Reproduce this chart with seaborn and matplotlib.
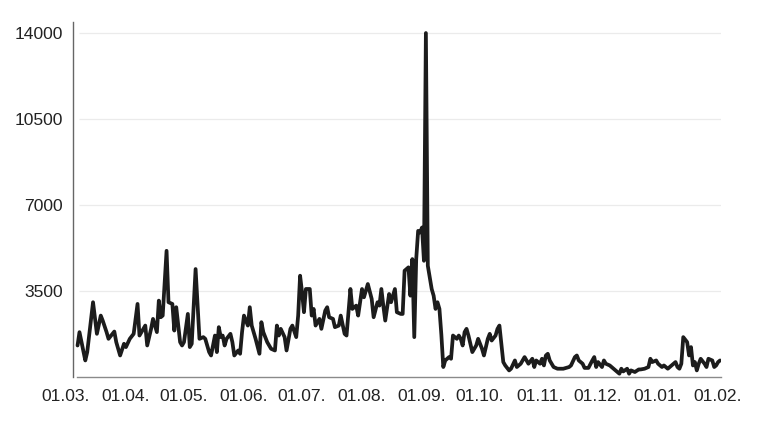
import matplotlib
matplotlib.use("Agg")
import matplotlib.pyplot as plt
import matplotlib.dates as mdates
import seaborn as sns
import pandas as pd

# days counted from the first data point (07.03.)
day_offsets = [
    0, 1, 4, 5, 8, 10, 12, 13, 15, 16, 19, 20, 22, 24, 25, 27, 29, 31, 32, 35,
    36, 38, 39, 41, 42, 43, 44, 46, 47, 49, 50, 51, 53, 54, 55, 57, 58, 59, 61, 63,
    65, 66, 68, 69, 71, 72, 73, 74, 75, 76, 77, 79, 80, 81, 83, 84, 85, 86, 88, 89,
    90, 91, 92, 94, 95, 96, 98, 100, 102, 103, 104, 105, 107, 108, 110, 111, 113, 114, 115, 116,
    117, 118, 120, 121, 122, 123, 125, 126, 128, 129, 130, 132, 133, 135, 136, 138, 139, 141, 142, 144,
    145, 147, 148, 150, 152, 153, 155, 156, 157, 158, 159, 161, 162, 164, 165, 167, 168, 169, 171, 172,
    173, 174, 175, 176, 177, 178, 179, 180, 181, 183, 184, 185, 186, 187, 188, 189, 190, 192, 193, 194,
    196, 197, 198, 199, 200, 201, 202, 204, 206, 207, 209, 210, 212, 213, 214, 216, 217, 218, 220, 221,
    223, 224, 226, 227, 229, 231, 232, 233, 235, 236, 237, 239, 240, 241, 242, 243, 244, 246, 248, 251,
    254, 255, 257, 258, 259, 261, 262, 264, 266, 267, 268, 269, 271, 272, 273, 275, 277, 278, 280, 281,
    282, 284, 285, 286, 288, 290, 291, 293, 295, 296, 297, 299, 300, 302, 303, 305, 306, 307, 309, 310,
    311, 312, 313, 315, 316, 317, 318, 319, 320, 321, 322, 324, 325, 326, 328, 329, 330, 331, 332,
]
values = [
    1264, 1808, 654, 995, 3027, 1739, 2483, 2280, 1808, 1536, 1832, 1402, 857, 1333, 1199, 1536, 1739, 2958, 1670, 2076,
    1264, 1942, 2348, 1808, 3092, 2416, 2483, 5123, 3027, 2958, 1873, 2824, 1402, 1264, 1402, 2551, 1199, 1333, 4380, 1536,
    1605, 1536, 995, 857, 1670, 995, 2011, 1605, 1670, 1264, 1536, 1739, 1402, 857, 1060, 926, 1808, 2483, 2076, 2824,
    2076, 1808, 1536, 926, 2214, 1808, 1402, 1130, 1060, 2076, 1670, 1942, 1605, 1060, 1942, 2076, 1605, 2483, 4108, 3433,
    2621, 3567, 3567, 2483, 2755, 2076, 2348, 1942, 2686, 2824, 2416, 2348, 2011, 2076, 2483, 1739, 1670, 3567, 2755, 2890,
    2483, 3567, 3229, 3770, 3161, 2416, 3027, 2890, 3567, 2890, 2280, 3364, 3027, 3567, 2621, 2551, 2551, 4311, 4449, 3295,
    4786, 1605, 4786, 5936, 5871, 6074, 4717, 14000, 4515, 3567, 3295, 2755, 3027, 2755, 1700, 386, 654, 792, 723, 1670,
    1536, 1670, 1536, 1264, 1808, 1942, 1670, 995, 1264, 1536, 1130, 857, 1536, 1739, 1467, 1670, 1942, 2076, 589, 451,
    248, 317, 654, 386, 520, 792, 654, 520, 723, 386, 654, 520, 723, 451, 857, 926, 654, 386, 317, 317,
    386, 451, 792, 857, 654, 520, 350, 350, 654, 792, 386, 589, 386, 654, 520, 451, 317, 248, 114, 317,
    207, 317, 114, 248, 183, 288, 288, 317, 386, 723, 589, 654, 520, 386, 451, 317, 386, 451, 589, 386,
    317, 520, 1605, 1402, 857, 1199, 451, 589, 248, 520, 723, 520, 386, 723, 654, 386, 451, 589, 654,
]

start = pd.Timestamp("2022-03-07")
tick_dates = pd.date_range("2022-03-01", "2023-02-01", freq="MS")
tick_labels = [d.strftime("%d.%m.") for d in tick_dates]
y_ticks = [3500, 7000, 10500, 14000]

df = pd.DataFrame({
    "date": start + pd.to_timedelta(day_offsets, unit="D"),
    "value": values,
})

sns.set_theme(style="white")
plt.rcParams["font.family"] = ["Liberation Sans", "DejaVu Sans"]
plt.rcParams["text.color"] = "#222222"

fig = plt.figure(figsize=(7.66, 4.22), dpi=100)
ax = fig.add_axes([64.0 / 766, (422 - 376.5) / 422, 657.0 / 766, 354.5 / 422])

x_lo = start - pd.Timedelta(days=7)
x_hi = start + pd.Timedelta(days=332.5)

# light horizontal grid, starting just right of the y axis
ax.hlines(y_ticks, start + pd.Timedelta(days=1), x_hi, color="#ebebeb", lw=0.9, zorder=0)

sns.lineplot(data=df, x="date", y="value", ax=ax, color="#1c1c1c", lw=2.7)

ax.set_xlim(x_lo, x_hi)
ax.set_ylim(0, 14450)
ax.set_xlabel("")
ax.set_ylabel("")

ax.set_yticks(y_ticks)
ax.set_yticklabels([str(v) for v in y_ticks])
ax.set_xticks(tick_dates)
ax.set_xticklabels(tick_labels)
ax.tick_params(axis="both", length=0, labelsize=12.6, labelcolor="#222222")
ax.tick_params(axis="y", pad=7)
ax.tick_params(axis="x", pad=9)

for side in ["top", "right"]:
    ax.spines[side].set_visible(False)
ax.spines["left"].set_position(("data", mdates.date2num(start - pd.Timedelta(days=2.5))))
ax.spines["left"].set_color("#666666")
ax.spines["left"].set_linewidth(1.0)
ax.spines["bottom"].set_color("#8a8a8a")
ax.spines["bottom"].set_linewidth(1.0)
ax.spines["bottom"].set_bounds(mdates.date2num(start - pd.Timedelta(days=0.5)), mdates.date2num(x_hi))

fig.savefig("out.png", dpi=100)
